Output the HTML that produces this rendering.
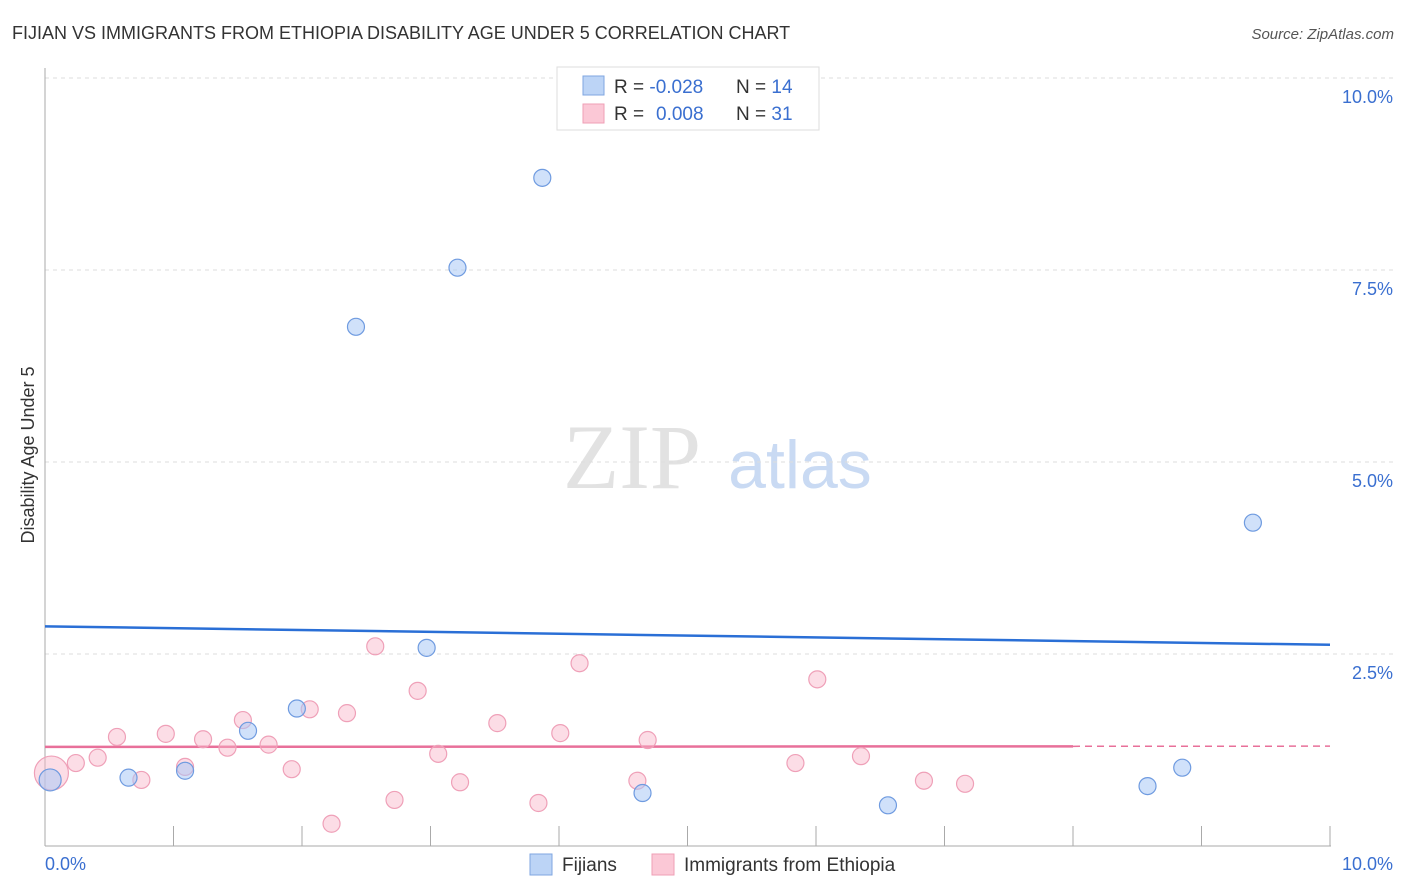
<!DOCTYPE html>
<html><head><meta charset="utf-8"><style>
body{margin:0;background:#fff;font-family:"Liberation Sans",sans-serif;}
svg{display:block}
</style></head><body>
<svg id="chart" width="1406" height="892">
<text x="12" y="39" font-size="18" fill="#333">FIJIAN VS IMMIGRANTS FROM ETHIOPIA DISABILITY AGE UNDER 5 CORRELATION CHART</text>
<text x="1394" y="39" font-size="15" fill="#555" font-style="italic" text-anchor="end">Source: ZipAtlas.com</text>
<text x="632" y="488" font-size="92" fill="#e2e2e2" font-family="Liberation Serif,serif" text-anchor="middle">ZIP</text>
<text x="800" y="488" font-size="68" fill="#c9daf3" text-anchor="middle">atlas</text>
<text transform="translate(34,455) rotate(-90)" font-size="18" fill="#333" text-anchor="middle">Disability Age Under 5</text>
<g id="grid"></g><g id="axes"></g><g id="trend"></g><g id="pts"></g>
<g>
<rect x="557" y="67" width="262" height="63" fill="#fff" stroke="#ddd"/>
<rect x="583" y="76" width="21" height="19" fill="#bcd4f6" stroke="#7fa6e0"/>
<rect x="583" y="104" width="21" height="19" fill="#fbc8d6" stroke="#ef9fb6"/>
<text x="614" y="93" font-size="19" fill="#333">R = <tspan fill="#3a6fd0">-0.028</tspan><tspan x="736">N = </tspan><tspan fill="#3a6fd0">14</tspan></text>
<text x="614" y="120" font-size="19" fill="#333">R = <tspan x="656" fill="#3a6fd0">0.008</tspan><tspan x="736">N = </tspan><tspan fill="#3a6fd0">31</tspan></text>
</g>
<g>
<rect x="530" y="854" width="22" height="21" fill="#bcd4f6" stroke="#7fa6e0"/>
<text x="562" y="871" font-size="19" fill="#333">Fijians</text>
<rect x="652" y="854" width="22" height="21" fill="#fbc8d6" stroke="#ef9fb6"/>
<text x="684" y="871" font-size="19" fill="#333">Immigrants from Ethiopia</text>
</g>
<text x="45" y="870" font-size="18" fill="#3a6fd0">0.0%</text>
<text x="1393" y="870" font-size="18" fill="#3a6fd0" text-anchor="end">10.0%</text>
</svg>
<script>
const yTicks=[2.5,5.0,7.5,10.0];
const yTickLabels=["2.5%","5.0%","7.5%","10.0%"];
const xTicks=[0,1,2,3,4,5,6,7,8,9,10];
const fijiX=[0.04,0.65,1.09,1.58,1.96,2.42,2.97,3.21,3.87,4.65,6.56,8.58,8.85,9.40];
const fijiY=[0.86,0.89,0.98,1.50,1.79,6.76,2.58,7.53,8.70,0.69,0.53,0.78,1.02,4.21];
const ethX=[0.05,0.24,0.41,0.56,0.75,0.94,1.09,1.23,1.42,1.54,1.74,1.92,2.06,2.23,2.35,2.57,2.72,2.90,3.06,3.23,3.52,3.84,4.01,4.16,4.61,4.69,5.84,6.01,6.35,6.84,7.16];
const ethY=[0.95,1.08,1.15,1.42,0.86,1.46,1.03,1.39,1.28,1.64,1.32,1.00,1.78,0.29,1.73,2.60,0.60,2.02,1.20,0.83,1.60,0.56,1.47,2.38,0.85,1.38,1.08,2.17,1.17,0.85,0.81];
const fijiTrend=[2.86,2.62];
const ethTrend=[1.29,1.30];
const ethTrendSolidEnd=8;
const NS="http://www.w3.org/2000/svg";
const sx=v=>45+v*128.5, sy=v=>846-v*76.8;
function mk(tag,attrs,parent){const e=document.createElementNS(NS,tag);for(const k in attrs)e.setAttribute(k,attrs[k]);document.getElementById(parent).appendChild(e);return e;}
yTicks.forEach((t,i)=>{
 const l=mk('line',{x1:45,x2:1394,y1:sy(t),y2:sy(t),stroke:'#ddd','stroke-dasharray':'4,4'},'grid');
 
 
 const tx=mk('text',{x:1393,y:sy(t)+25,'font-size':18,fill:'#3a6fd0','text-anchor':'end'},'grid');
 tx.textContent=yTickLabels[i];
 
 
});
const ya=mk('line',{x1:45,x2:45,y1:68,y2:846,stroke:'#aaa'},'axes');


const xa=mk('line',{x1:45,x2:1331,y1:846,y2:846,stroke:'#aaa'},'axes');


xTicks.forEach(t=>{
 const l=mk('line',{x1:sx(t),x2:sx(t),y1:826,y2:846,stroke:'#aaa'},'axes');
 
 
});
const bt=mk('line',{x1:sx(0),x2:sx(10),y1:sy(fijiTrend[0]),y2:sy(fijiTrend[1]),stroke:'#2a6fd6','stroke-width':2.5},'trend');


const pm=ethTrend[0]+(ethTrend[1]-ethTrend[0])*ethTrendSolidEnd/10;
const pt=mk('line',{x1:sx(0),x2:sx(ethTrendSolidEnd),y1:sy(ethTrend[0]),y2:sy(pm),stroke:'#e8709a','stroke-width':2.5},'trend');


const pd=mk('line',{x1:sx(ethTrendSolidEnd),x2:sx(10),y1:sy(pm),y2:sy(ethTrend[1]),stroke:'#e8709a','stroke-width':1.5,'stroke-dasharray':'7,5'},'trend');


ethX.forEach((x,i)=>{
 const c=mk('circle',{cx:sx(x),cy:sy(ethY[i]),r:i==0?17:8.5,fill:'rgba(248,180,200,0.45)',stroke:'#efa0b8','stroke-width':1.2},'pts');
 
 
});
fijiX.forEach((x,i)=>{
 const c=mk('circle',{cx:sx(x),cy:sy(fijiY[i]),r:i==0?11:8.5,fill:'rgba(170,200,245,0.55)',stroke:'#6f9be0','stroke-width':1.2},'pts');
 
 
});
</script>
</body></html>
